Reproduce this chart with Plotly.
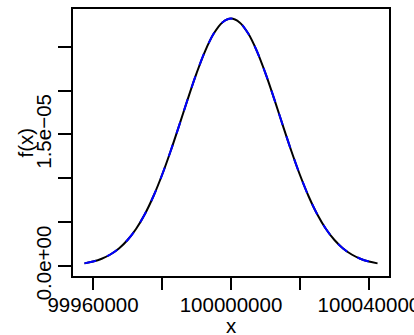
import plotly.graph_objects as go

# Values (density curve, x in units of x, f(x) values)
x_vals = [99957500, 99960000, 99962500, 99965000, 99967500, 99970000, 99972500,
          99975000, 99977500, 99980000, 99982500, 99985000, 99987500, 99990000,
          99992500, 99995000, 99997500, 100000000, 100002500, 100005000, 100007500,
          100010000, 100012500, 100015000, 100017500, 100020000, 100022500,
          100025000, 100027500, 100030000, 100032500, 100035000, 100037500,
          100040000, 100042500]
half = [3.1e-7, 5.2e-7, 8.4e-7, 1.32e-6, 2.01e-6, 2.97e-6, 4.26e-6, 5.91e-6,
        7.96e-6, 1.038e-5, 1.312e-5, 1.607e-5, 1.909e-5, 2.197e-5, 2.451e-5,
        2.650e-5, 2.777e-5]
peak = 2.821e-5
f_vals = half + [peak] + half[::-1]

x_tickvals = [99960000, 99980000, 100000000, 100020000, 100040000]
x_ticktext = ["99960000", "", "100000000", "", "100040000"]
y_tickvals = [0, 5e-6, 1e-5, 1.5e-5, 2e-5, 2.5e-5]
y_ticktext = ["0.0e+00", "", "", "1.5e\u221205", "", ""]

FONT = "Liberation Sans, Arial, sans-serif"
FS = 20.5

fig = go.Figure()
fig.add_trace(go.Scatter(x=x_vals, y=f_vals, mode="lines",
                         line=dict(color="black", width=2, shape="spline"),
                         showlegend=False, hoverinfo="skip"))
fig.add_trace(go.Scatter(x=x_vals, y=f_vals, mode="lines",
                         line=dict(color="blue", width=2, dash="12px,12px", shape="spline"),
                         showlegend=False, hoverinfo="skip"))

fig.update_layout(
    width=414, height=335,
    margin=dict(l=73, r=25, t=9, b=59),
    plot_bgcolor="white", paper_bgcolor="white",
    font=dict(family=FONT, size=FS, color="black"),
    xaxis=dict(range=[99954180, 100045820], tickvals=x_tickvals, ticktext=x_ticktext,
               showgrid=False, zeroline=False, showline=True, mirror=True,
               linecolor="black", linewidth=2, ticks="outside", ticklen=12,
               tickwidth=2, tickcolor="black", tickfont=dict(size=FS),
               ticklabeloverflow="allow", automargin=False, ticklabelstandoff=-3),
    yaxis=dict(range=[-1.13e-6, 2.93e-5], tickvals=y_tickvals, ticktext=y_ticktext,
               showgrid=False, zeroline=False, showline=True, mirror=True,
               linecolor="black", linewidth=2, ticks="outside", ticklen=13,
               tickwidth=2, tickcolor="black", tickangle=-90, tickfont=dict(size=FS),
               ticklabeloverflow="allow", automargin=False, ticklabelstandoff=-1),
    annotations=[
        dict(text="x", xref="paper", yref="paper", x=0.5, y=-0.187,
             xanchor="center", yanchor="middle", showarrow=False,
             font=dict(size=FS, family=FONT)),
        dict(text="f(x)", xref="paper", yref="paper", x=-0.149, y=0.5,
             xanchor="center", yanchor="middle", showarrow=False, textangle=-90,
             font=dict(size=FS, family=FONT)),
    ],
)

fig.write_html("out.html", config={"displayModeBar": False, "staticPlot": True},
               post_script="document.body.style.margin='0';document.body.style.overflow='hidden';")
